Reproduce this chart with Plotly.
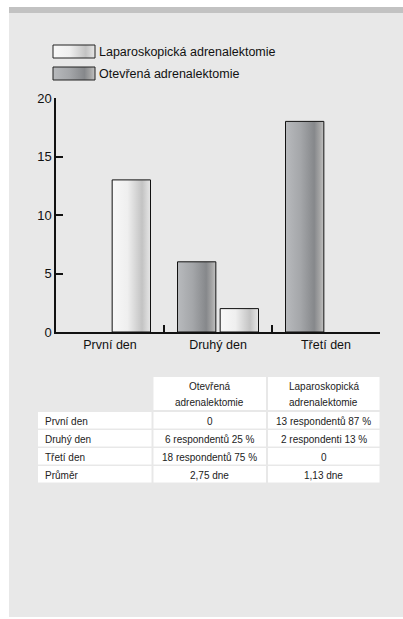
import base64
import plotly.graph_objects as go

# ---------------- data ----------------
categories = ["První den", "Druhý den", "Třetí den"]
series_names = ["Otevřená adrenalektomie", "Laparoskopická adrenalektomie"]
otevrena = [0, 6, 18]
laparoskopicka = [13, 2, 0]
y_ticks = [0, 5, 10, 15, 20]

table_header = ["", "Otevřená<br>adrenalektomie", "Laparoskopická<br>adrenalektomie"]
table_rows = ["První den", "Druhý den", "Třetí den", "Průměr"]
table_otevrena = ["0", "6 respondentů 25 %", "18 respondentů 75 %", "2,75 dne"]
table_laparo = ["13 respondentů 87 %", "2 respondenti 13 %", "0", "1,13 dne"]

# ---------------- layout helpers ----------------
W, H = 403, 619
FONT = "Liberation Sans, Arial, sans-serif"
PANEL = "#e8e8e8"


def px(x):
    return x / W


def py(y):
    return 1 - y / H


def grad_uri(stops):
    st = "".join(
        f"<stop offset='{o}%' stop-color='{c}'/>" for o, c in stops
    )
    svg = (
        "<svg xmlns='http://www.w3.org/2000/svg' width='100' height='100' "
        "viewBox='0 0 100 100' preserveAspectRatio='none'>"
        f"<defs><linearGradient id='g' x1='0' x2='1' y1='0' y2='0'>{st}</linearGradient></defs>"
        "<rect x='0' y='0' width='100' height='100' fill='url(#g)'/></svg>"
    )
    return "data:image/svg+xml;base64," + base64.b64encode(svg.encode()).decode()


LIGHT = grad_uri([(0, "#f8f8f8"), (40, "#efefef"), (78, "#c3c3c3"), (92, "#dadada"), (100, "#e6e6e6")])
DARK = grad_uri([(0, "#b8babd"), (40, "#a4a6a9"), (75, "#86888b"), (90, "#a6a6a6"), (100, "#c2c2c2")])

BAR_W = 0.355
offsets = [-0.375, 0.02]
series_vals = [otevrena, laparoskopicka]
series_img = [DARK, LIGHT]

fig = go.Figure()
images = []
for name, vals, off, img in zip(series_names, series_vals, offsets, series_img):
    fig.add_trace(go.Bar(
        x=categories, y=[v if v else None for v in vals], name=name,
        width=BAR_W, offset=off,
        marker=dict(color="rgba(0,0,0,0)", line=dict(color="#111111", width=1)),
        showlegend=False, hoverinfo="skip",
    ))
    for i, v in enumerate(vals):
        if v > 0:
            images.append(dict(
                source=img, xref="x", yref="y",
                x=i + off, y=v, sizex=BAR_W, sizey=v,
                xanchor="left", yanchor="top", sizing="stretch", layer="below",
            ))

shapes = [
    # white outer margins and top strip
    dict(type="rect", xref="paper", yref="paper", x0=0, x1=px(9), y0=0, y1=1,
         fillcolor="white", line=dict(width=0), layer="below"),
    dict(type="rect", xref="paper", yref="paper", x0=0, x1=1, y0=py(7), y1=1,
         fillcolor="white", line=dict(width=0), layer="below"),
    dict(type="rect", xref="paper", yref="paper", x0=0, x1=1, y0=0, y1=py(617),
         fillcolor="white", line=dict(width=0), layer="below"),
    dict(type="rect", xref="paper", yref="paper", x0=px(9), x1=1, y0=py(13), y1=py(7),
         fillcolor="#c2c2c2", line=dict(width=0), layer="below"),
]
annotations = []

# legend (custom, wide gradient boxes)
legend_items = [(series_names[1], LIGHT, 45, 58), (series_names[0], DARK, 67, 80)]
for label, img, y0, y1 in legend_items:
    images.append(dict(
        source=img, xref="paper", yref="paper",
        x=px(53), y=py(y0), sizex=px(95) - px(53), sizey=py(y0) - py(y1),
        xanchor="left", yanchor="top", sizing="stretch", layer="above",
    ))
    shapes.append(dict(type="rect", xref="paper", yref="paper",
                       x0=px(53), x1=px(95), y0=py(y1), y1=py(y0),
                       line=dict(color="#222222", width=1), fillcolor="rgba(0,0,0,0)"))
    annotations.append(dict(
        text=label, xref="paper", yref="paper", x=px(97), y=py((y0 + y1) / 2 + 0.5),
        xanchor="left", yanchor="middle", showarrow=False,
        font=dict(family=FONT, size=12.5, color="#111111"),
    ))

# table drawn as cells + text
col_x = [(38, 151.5), (153.5, 266), (268, 379.5)]
row_y = [(377, 410), (412, 428.5), (430, 446.5), (448, 464.5), (466, 482.5)]
table_cols = [
    [table_header[0]] + table_rows,
    [table_header[1]] + table_otevrena,
    [table_header[2]] + table_laparo,
]
TFONT = dict(family=FONT, size=10, color="#222222")
for ci, (x0, x1) in enumerate(col_x):
    for ri, (y0, y1) in enumerate(row_y):
        txt = table_cols[ci][ri]
        if ri == 0 and ci == 0:
            continue
        shapes.append(dict(type="rect", xref="paper", yref="paper",
                           x0=px(x0), x1=px(x1), y0=py(y1), y1=py(y0),
                           fillcolor="white", line=dict(width=0)))
        if ci == 0:
            ax, anchor = px(x0 + 4.5), "left"
        else:
            ax, anchor = px((x0 + x1) / 2), "center"
        lines = txt.split("<br>")
        n = len(lines)
        pitch = 16.5
        ymid = (y0 + y1) / 2 + 1
        for li, line in enumerate(lines):
            ly = ymid + (li - (n - 1) / 2) * pitch
            annotations.append(dict(
                text=line, xref="paper", yref="paper", x=ax, y=py(ly),
                xanchor=anchor, yanchor="middle", showarrow=False, font=TFONT,
            ))

fig.update_layout(
    template="none",
    width=W, height=H,
    margin=dict(l=0, r=0, t=0, b=0),
    paper_bgcolor=PANEL, plot_bgcolor="rgba(0,0,0,0)",
    barmode="group", showlegend=False,
    font=dict(family=FONT, size=12, color="#111111"),
    xaxis=dict(
        domain=[px(56), px(380)], type="category", range=[-0.5, 2.5],
        showline=True, linecolor="#111111", linewidth=1.5,
        ticks="inside", tickson="boundaries", ticklen=7, tickwidth=1.5, tickcolor="#111111",
        showgrid=False, zeroline=False, fixedrange=True, automargin=False,
        tickfont=dict(family=FONT, size=12.5, color="#111111"),
    ),
    yaxis=dict(
        domain=[py(332), py(98)], range=[0, 20], tickvals=y_ticks,
        showline=True, linecolor="#111111", linewidth=1.5,
        ticks="inside", ticklen=7, tickwidth=1.5, tickcolor="#111111",
        showgrid=False, zeroline=False, fixedrange=True, automargin=False,
        tickfont=dict(family=FONT, size=13, color="#111111"),
    ),
    shapes=shapes,
    images=images,
    annotations=annotations,
)

fig.write_html(
    "out.html",
    config={"displayModeBar": False},
    post_script="document.body.style.margin='0';document.body.style.overflow='hidden';",
)
